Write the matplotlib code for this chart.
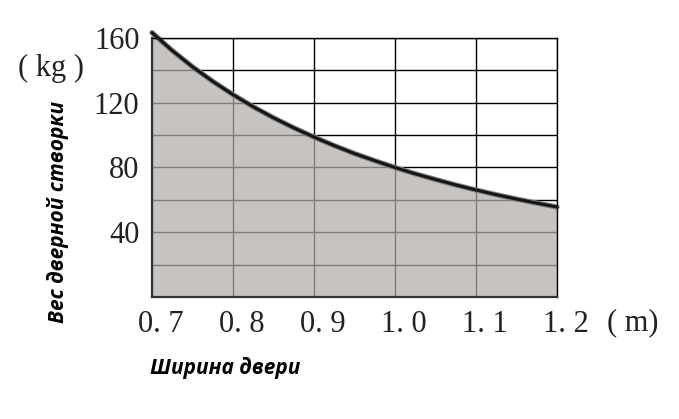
import numpy as np
import matplotlib
matplotlib.use("Agg")
import matplotlib.pyplot as plt
from matplotlib.transforms import ScaledTranslation

# door width (m) vs. door leaf weight (kg)
width_m = [0.700, 0.725, 0.750, 0.775, 0.800, 0.825, 0.850, 0.875, 0.900,
           0.925, 0.950, 0.975, 1.000, 1.025, 1.050, 1.075, 1.100, 1.125,
           1.150, 1.175, 1.200]
weight_kg = [163.3, 152.2, 142.2, 133.2, 125.0, 117.5, 110.7, 104.5, 98.8,
             93.5, 88.6, 84.2, 80.0, 76.1, 72.6, 69.2, 66.1, 63.2,
             60.5, 58.0, 55.6]

x_ticks = [0.7, 0.8, 0.9, 1.0, 1.1, 1.2]
x_labels = ["0. 7", "0. 8", "0. 9", "1. 0", "1. 1", "1. 2"]
y_grid = [0, 20, 40, 60, 80, 100, 120, 140, 160]
y_labels = ["", "", "40", "", "80", "", "120", "", "160"]

fig = plt.figure(figsize=(6.79, 4.19), dpi=100)
ax = fig.add_axes([152/679, 1-297/419, 405/679, 259/419])

ax.set_xlim(0.7, 1.2)
ax.set_ylim(0, 160)

# black grid, grey fill on top with alpha so lines look grey inside
ax.set_xticks(x_ticks)
ax.set_yticks(y_grid)
ax.grid(True, color="black", linewidth=1.0, zorder=0)
ax.set_axisbelow(True)

ax.fill_between(width_m, 0, weight_kg, color="#b0acaa", alpha=0.72,
                linewidth=0, zorder=1, clip_on=False)
ax.plot(width_m, weight_kg, color="#808080", linewidth=3.8, zorder=2,
        clip_on=False, solid_capstyle="round")
ax.plot(width_m, weight_kg, color="#151515", linewidth=2.2, zorder=3,
        clip_on=False, solid_capstyle="round")

for s in ["top", "right"]:
    ax.spines[s].set_color("black")
    ax.spines[s].set_linewidth(1.0)
for s in ["left", "bottom"]:
    ax.spines[s].set_color("#333333")
    ax.spines[s].set_linewidth(1.6)

serif = dict(fontfamily="Liberation Serif", fontsize=22, color="#222222")

ax.tick_params(length=0)
ax.set_xticklabels(x_labels, **serif)
ax.tick_params(axis="x", pad=9)
offset = ScaledTranslation(9/100, 0, fig.dpi_scale_trans)
for lab in ax.get_xticklabels():
    lab.set_transform(lab.get_transform() + offset)

ax.set_yticklabels(y_labels, **serif)
ax.tick_params(axis="y", pad=9)

fig.text(18/679, 1-68/419, "( kg )", va="center", ha="left", **serif)
fig.text(607/679, 1-323/419, "( m)", va="center", ha="left", **serif)

fig.text(58/679, 1-212/419, "Вес дверной створки", fontfamily="Open Sans",
         fontweight="bold", fontstyle="italic", fontsize=15, rotation=90,
         va="center", ha="center", color="black")
fig.text(150/679, 1-368/419, "Ширина двери", fontfamily="Open Sans",
         fontweight="bold", fontstyle="italic", fontsize=15,
         va="center", ha="left", color="black")

fig.savefig("out.png", dpi=100)
